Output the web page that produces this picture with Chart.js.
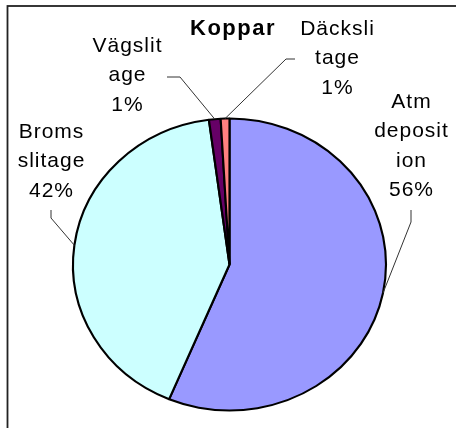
<!DOCTYPE html>
<html>
<head>
<meta charset="utf-8">
<script src="https://cdn.jsdelivr.net/npm/chart.js@4/dist/chart.umd.min.js"></script>
<style>
  html, body { margin: 0; padding: 0; background: #fff; }
  canvas { display: block; }
</style>
</head>
<body>
<canvas id="c" width="456" height="428"></canvas>
<script>
// Copper sources (share of total)
const title = 'Koppar';
const categories = [['Atm', 'deposit', 'ion'], ['Broms', 'slitage'], ['Vägslit', 'age'], ['Däcksli', 'tage']];
const shares = [56.3, 41.6, 1.2, 0.9];
const colors = ['#9999FF', '#CCFFFF', '#660066', '#FF8080'];

// Label placement: text centre x, first baseline y, and the two elbow points of the leader line
const labelLayout = [
  { x: 411, y: 108, elbow: [[411, 210], [411, 222]] },
  { x: 51,  y: 138, elbow: [[51, 210], [51, 218]] },
  { x: 127, y: 52,  elbow: [[167, 77], [180, 77]] },
  { x: 337, y: 35,  elbow: [[295, 59], [286, 59]] }
];
const lineHeight = 29.3;
const radiusY = 146;
const stretchX = 156.5 / radiusY;   // the pie is drawn slightly wider than tall

const ellipse = {
  id: 'ellipse',
  beforeDatasetsDraw(chart) {
    const a = chart.getDatasetMeta(0).data[0];
    const ctx = chart.ctx;
    ctx.save();
    ctx.translate(a.x, a.y);
    ctx.scale(stretchX, 1);
    ctx.translate(-a.x, -a.y);
  },
  afterDatasetsDraw(chart) {
    chart.ctx.restore();
  }
};

const decor = {
  id: 'decor',
  afterDraw(chart) {
    const ctx = chart.ctx;
    const meta = chart.getDatasetMeta(0);
    const total = shares.reduce((s, v) => s + v, 0);
    ctx.save();

    // outer frame
    ctx.strokeStyle = '#222';
    ctx.lineWidth = 1.8;
    ctx.strokeRect(7.5, 6, 470, 440);

    // title
    ctx.fillStyle = '#000';
    ctx.textAlign = 'center';
    ctx.textBaseline = 'alphabetic';
    ctx.font = 'bold 22px "Liberation Sans", Arial, sans-serif';
    ctx.letterSpacing = '1.5px';
    ctx.fillText(title, 233, 35);

    // slice labels with leader lines
    ctx.font = '21px "Liberation Sans", Arial, sans-serif';
    ctx.letterSpacing = '1px';
    meta.data.forEach((arc, i) => {
      const L = labelLayout[i];
      const pct = Math.round(shares[i] / total * 100) + '%';
      const lines = categories[i].concat(pct);
      ctx.fillStyle = '#000';
      lines.forEach((t, k) => ctx.fillText(t, L.x + 0.5, L.y + k * lineHeight));

      const mid = (arc.startAngle + arc.endAngle) / 2;
      const px = arc.x + Math.cos(mid) * arc.outerRadius * stretchX;
      const py = arc.y + Math.sin(mid) * arc.outerRadius;
      ctx.beginPath();
      ctx.moveTo(L.elbow[0][0], L.elbow[0][1]);
      ctx.lineTo(L.elbow[1][0], L.elbow[1][1]);
      ctx.lineTo(px, py);
      ctx.strokeStyle = '#333';
      ctx.lineWidth = 1;
      ctx.stroke();
    });
    ctx.restore();
  }
};

new Chart(document.getElementById('c'), {
  type: 'pie',
  data: {
    labels: categories.map(c => c.join('')),
    datasets: [{
      data: shares,
      backgroundColor: colors,
      borderColor: '#000',
      borderWidth: 2
    }]
  },
  options: {
    responsive: false,
    animation: false,
    radius: radiusY,
    layout: { padding: { left: 3, right: 0, top: 101, bottom: 0 } },
    plugins: {
      legend: { display: false },
      tooltip: { enabled: false },
      title: { display: false }
    }
  },
  plugins: [ellipse, decor]
});
</script>
</body>
</html>
